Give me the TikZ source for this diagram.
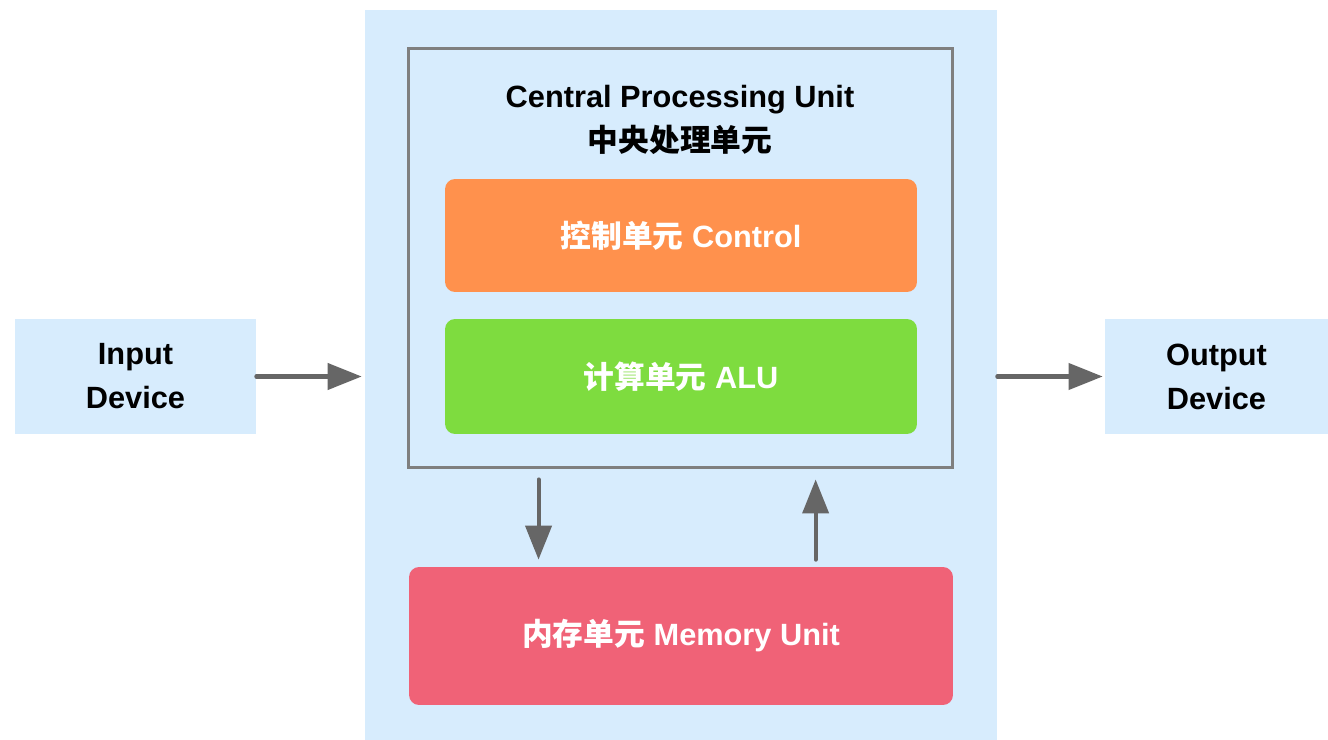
\documentclass[tikz,border=0pt]{standalone}
\usepackage{fontspec}
\setmainfont{Liberation Sans}
\newfontfamily\cjk{Noto Sans CJK SC}
\usetikzlibrary{arrows.meta}
\definecolor{bgblue}{HTML}{D7ECFD}
\definecolor{framegray}{HTML}{7F7F7F}
\definecolor{arrowgray}{HTML}{666666}
\definecolor{ctrlorange}{HTML}{FF914D}
\definecolor{alugreen}{HTML}{7EDC3F}
\definecolor{memred}{HTML}{F06277}
\begin{document}
\begin{tikzpicture}[x=0.02cm,y=-0.02cm,
    txt/.style={align=center,inner sep=0pt,font=\fontsize{17.5}{25}\selectfont\bfseries},
    device/.style={txt,fill=bgblue,minimum height=2.3cm},
    unit/.style={txt,rounded corners=0.2cm,text=white},
    flow/.style={draw=arrowgray,line width=2.3pt,line cap=round,
        -{Triangle[length=0.68cm,width=0.52cm]}}]
\useasboundingbox (0,0) rectangle (1328,740);
\node[fill=bgblue,minimum width=12.64cm,minimum height=14.6cm] (board) at (681,375) {};
\node[draw=framegray,line width=1.7pt,minimum width=10.9cm,minimum height=8.4cm] (cpu) at (680.5,258) {};
\node[txt] (title) at (680,120) {Central Processing Unit\\{\cjk 中央处理单元}};
\node[unit,fill=ctrlorange,minimum width=9.44cm,minimum height=2.26cm] (ctrl) at (681,235.5) {{\cjk 控制单元} Control};
\node[unit,fill=alugreen,minimum width=9.44cm,minimum height=2.3cm] (alu) at (681,376.5) {{\cjk 计算单元} ALU};
\node[unit,fill=memred,minimum width=10.88cm,minimum height=2.76cm] (mem) at (681,636) {{\cjk 内存单元} Memory Unit};
\node[device,minimum width=4.82cm] (input) at (135.5,376.5) {Input\\Device};
\node[device,minimum width=4.46cm] (output) at (1216.5,376.5) {Output\\Device};

\draw[flow,shorten >=0.06cm] (input.east) -- (input.east -| board.west);
\draw[flow,shorten >=0.04cm] (output.west -| board.east) -- (output.west);
\coordinate (down) at ([xshift=2.64cm]cpu.south west);
\coordinate (up) at ([xshift=8.14cm]mem.north west);
\draw[flow,shorten <=0.2cm,shorten >=0.14cm] (down) -- (down |- mem.north);
\draw[flow,shorten <=0.14cm,shorten >=0.2cm] (up) -- (up |- cpu.south);
\end{tikzpicture}
\end{document}
